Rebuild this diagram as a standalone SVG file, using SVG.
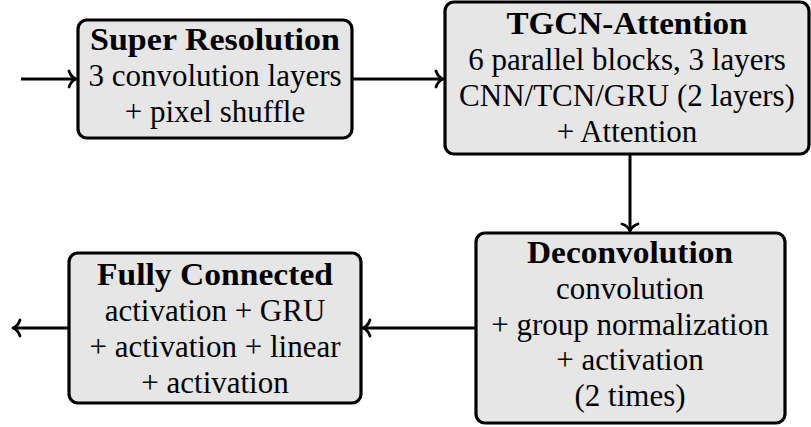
<svg xmlns="http://www.w3.org/2000/svg" width="811" height="427" viewBox="0 0 811 427">
  <defs>
    <style>
      .box { fill: #e6e6e6; stroke: #000; stroke-width: 3.2; }
      text { font-family: "Liberation Serif", "Times New Roman", "DejaVu Serif", serif; font-size: 31px; fill: #000; text-anchor: middle; }
      .b { font-weight: bold; }
      .conn { fill: none; stroke: #000; stroke-width: 3; }
    </style>
    <marker id="arr" markerUnits="userSpaceOnUse" markerWidth="16" markerHeight="20" viewBox="-10 -10 12 20" refX="0" refY="0" orient="auto" overflow="visible">
      <path d="M -7,-8 Q -5,-2 0,0 Q -5,2 -7,8" fill="none" stroke="#000" stroke-width="2.8" stroke-linecap="round" stroke-linejoin="round"/>
    </marker>
  </defs>
  <rect width="811" height="427" fill="#fff"/>

  <g id="connectors">
    <line class="conn" x1="21" y1="79" x2="76" y2="79" marker-end="url(#arr)"/>
    <line class="conn" x1="352" y1="79" x2="443" y2="79" marker-end="url(#arr)"/>
    <line class="conn" x1="630" y1="154" x2="630" y2="231" marker-end="url(#arr)"/>
    <line class="conn" x1="476" y1="328" x2="363" y2="328" marker-end="url(#arr)"/>
    <line class="conn" x1="69" y1="328" x2="13" y2="328" marker-end="url(#arr)"/>
  </g>

  <g id="super-resolution">
    <rect class="box" x="78" y="20" width="274" height="118" rx="9"/>
    <text class="b" x="215" y="50" textLength="250" lengthAdjust="spacingAndGlyphs" font-family="Liberation Serif">Super Resolution</text>
    <text x="215" y="86" font-family="Liberation Serif">3 convolution layers</text>
    <text x="215" y="122" font-family="Liberation Serif">+ pixel shuffle</text>
  </g>

  <g id="tgcn-attention">
    <rect class="box" x="445" y="2" width="364" height="152" rx="9"/>
    <text class="b" x="627" y="34" textLength="241" lengthAdjust="spacingAndGlyphs" font-family="Liberation Serif">TGCN-Attention</text>
    <text x="627" y="70" font-family="Liberation Serif">6 parallel blocks, 3 layers</text>
    <text x="627" y="106" font-family="Liberation Serif">CNN/TCN/GRU (2 layers)</text>
    <text x="627" y="142" font-family="Liberation Serif">+ Attention</text>
  </g>

  <g id="deconvolution">
    <rect class="box" x="476" y="233" width="309" height="190" rx="9"/>
    <text class="b" x="630" y="263" textLength="206" lengthAdjust="spacingAndGlyphs" font-family="Liberation Serif">Deconvolution</text>
    <text x="630" y="299" font-family="Liberation Serif">convolution</text>
    <text x="630" y="335" font-family="Liberation Serif">+ group normalization</text>
    <text x="630" y="370" font-family="Liberation Serif">+ activation</text>
    <text x="630" y="406" font-family="Liberation Serif">(2 times)</text>
  </g>

  <g id="fully-connected">
    <rect class="box" x="69" y="253" width="292" height="150" rx="9"/>
    <text class="b" x="215" y="285" textLength="236" lengthAdjust="spacingAndGlyphs" font-family="Liberation Serif">Fully Connected</text>
    <text x="215" y="321" font-family="Liberation Serif">activation + GRU</text>
    <text x="215" y="357" font-family="Liberation Serif">+ activation + linear</text>
    <text x="215" y="393" font-family="Liberation Serif">+ activation</text>
  </g>
</svg>
